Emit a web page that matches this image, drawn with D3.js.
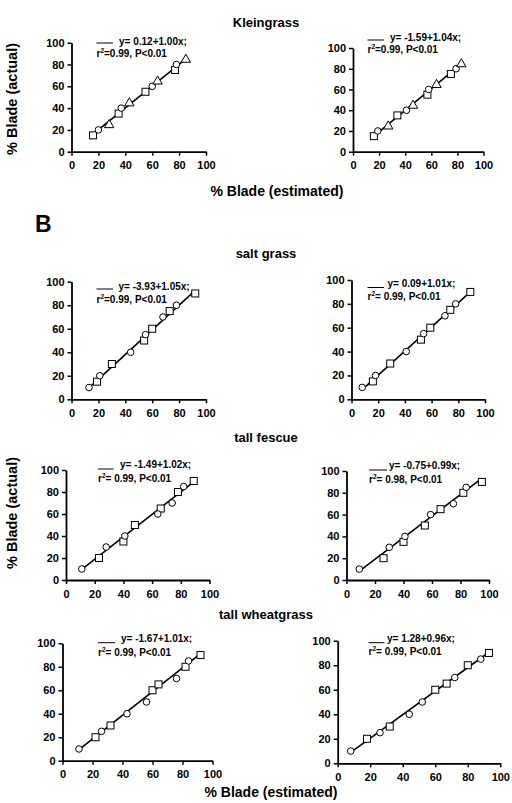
<!DOCTYPE html>
<html>
<head>
<meta charset="utf-8">
<script src="https://cdn.jsdelivr.net/npm/d3@7"></script>
<style>
  body { margin: 0; background: #fff; }
  text { font-family: "Liberation Sans", Arial, sans-serif; font-weight: bold; fill: #000; }
</style>
</head>
<body>
<svg id="chart" width="512" height="803"></svg>
<script>
// points are [estimated, actual] in % blade
var kleinL_sq = [[16,15],[35,35],[55,55],[77,75]];
var kleinL_ci = [[20,20],[37,40],[60,60],[78,80]];
var kleinL_tr = [[28,25],[43,45],[64,65],[85,85]];
var kleinR_sq = [[16,15],[34,35],[57,55],[75,75]];
var kleinR_ci = [[19,20],[41,40],[58,60],[79,80]];
var kleinR_tr = [[27,25],[46,45],[64,65],[83,85]];

var saltL_ci = [[13,10],[21,20],[44,40],[55,55],[68,70],[78,80]];
var saltL_sq = [[19,15],[30,30],[54,50],[60,60],[73,75],[92,90]];
var saltR_ci = [[8,10],[18,20],[41,40],[54,55],[70,70],[78,80]];
var saltR_sq = [[16,15],[29,30],[52,50],[59,60],[74,75],[89,90]];

var fescL_ci = [[11,10],[28,30],[41,40],[64,60],[74,70],[82,85]];
var fescL_sq = [[23,20],[40,35],[48,50],[66,65],[78,80],[89,90]];
var fescR_ci = [[9,10],[30,30],[41,40],[59,60],[75,70],[84,85]];
var fescR_sq = [[26,20],[40,35],[55,50],[66,65],[82,80],[95,90]];

var wheatL_ci = [[11,10],[26,25],[43,40],[56,50],[76,70],[84,85]];
var wheatL_sq = [[22,20],[32,30],[60,60],[64,65],[82,80],[92,90]];
var wheatR_ci = [[8,10],[26,25],[44,40],[52,50],[72,70],[88,85]];
var wheatR_sq = [[18,20],[32,30],[60,60],[67,65],[80,80],[93,90]];

var intercepts = [0.12, -1.59, -3.93, 0.09, -1.49, -0.75, -1.67, 1.28];
var slopes = [1.00, 1.04, 1.05, 1.01, 1.02, 0.99, 1.01, 0.96];
var r2Text = ["=0.99, P<0.01", "=0.99, P<0.01", "=0.99, P<0.01", "= 0.99, P<0.01",
              "= 0.99, P<0.01", "= 0.98, P<0.01", "= 0.99, P<0.01", "= 0.99, P<0.01"];

var titles = ["Kleingrass", "salt grass", "tall fescue", "tall wheatgrass"];
var ticks = [0, 20, 40, 60, 80, 100];

// panel placement (pixels)
var layout = [
  {x0: 71.5, x1: 206, y0: 151.7, y1: 42.7, lx: 96.5, lx2: 113, ly: 43, tx: 119, ty: 45, ry: 56.5},
  {x0: 353, x1: 483.5, y0: 151.7, y1: 48, lx: 367.5, lx2: 384, ly: 40, tx: 390, ty: 40.5, ry: 53},
  {x0: 71.5, x1: 206, y0: 399.3, y1: 281.7, lx: 96.5, lx2: 113, ly: 289, tx: 118.5, ty: 290, ry: 302.5},
  {x0: 351.5, x1: 485, y0: 399.3, y1: 280, lx: 367.5, lx2: 384, ly: 287.5, tx: 387.5, ty: 286.5, ry: 300},
  {x0: 66, x1: 209.5, y0: 580, y1: 470, lx: 98, lx2: 113.5, ly: 469, tx: 120, ty: 468, ry: 482},
  {x0: 346.5, x1: 489, y0: 580, y1: 471, lx: 369, lx2: 387, ly: 470, tx: 389, ty: 468.5, ry: 482.5},
  {x0: 62.5, x1: 212.5, y0: 760.7, y1: 643.3, lx: 98, lx2: 115, ly: 642.7, tx: 121, ty: 641.5, ry: 655.5},
  {x0: 337.7, x1: 500.3, y0: 763.3, y1: 640.7, lx: 368.5, lx2: 384.5, ly: 642.7, tx: 387, ty: 641.5, ry: 655}
];

var series = [
  {sq: kleinL_sq, ci: kleinL_ci, tr: kleinL_tr},
  {sq: kleinR_sq, ci: kleinR_ci, tr: kleinR_tr},
  {sq: saltL_sq, ci: saltL_ci},
  {sq: saltR_sq, ci: saltR_ci},
  {sq: fescL_sq, ci: fescL_ci},
  {sq: fescR_sq, ci: fescR_ci},
  {sq: wheatL_sq, ci: wheatL_ci},
  {sq: wheatR_sq, ci: wheatR_ci}
];

var svg = d3.select('#chart');

function fmt(v) { return v.toFixed(2); }

series.forEach(function(s, i) {
  var L = layout[i];
  var x = d3.scaleLinear().domain([0, 100]).range([L.x0, L.x1]);
  var y = d3.scaleLinear().domain([0, 100]).range([L.y0, L.y1]);
  var g = svg.append('g');

  var xAxis = g.append('g').attr('transform', 'translate(0,' + L.y0 + ')')
    .call(d3.axisBottom(x).tickValues(ticks).tickSize(4).tickSizeOuter(0).tickPadding(6));
  var yAxis = g.append('g').attr('transform', 'translate(' + L.x0 + ',0)')
    .call(d3.axisLeft(y).tickValues(ticks).tickSize(4).tickSizeOuter(0).tickPadding(3));
  [xAxis, yAxis].forEach(function(a) {
    a.select('.domain').attr('stroke', '#000').attr('stroke-width', 1.8);
    a.selectAll('.tick line').attr('stroke', '#000').attr('stroke-width', 1.5);
    a.selectAll('text').attr('font-size', 11).attr('font-family', '"Liberation Sans", Arial, sans-serif')
      .attr('font-weight', 'bold').attr('fill', '#000');
  });

  // regression line over range of the data
  var all = s.sq.concat(s.ci, s.tr || []);
  var ext = d3.extent(all, function(d) { return d[0]; });
  var line = d3.line().x(function(d) { return x(d); }).y(function(d) { return y(intercepts[i] + slopes[i] * d); });
  g.append('path').datum(ext).attr('d', line)
    .attr('fill', 'none').attr('stroke', '#000').attr('stroke-width', 1.6);

  g.selectAll('rect.sq').data(s.sq).enter().append('rect')
    .attr('x', function(d) { return x(d[0]) - 3.5; })
    .attr('y', function(d) { return y(d[1]) - 3.5; })
    .attr('width', 7).attr('height', 7)
    .attr('fill', '#fff').attr('stroke', '#000').attr('stroke-width', 1);
  g.selectAll('circle.ci').data(s.ci).enter().append('circle')
    .attr('cx', function(d) { return x(d[0]); })
    .attr('cy', function(d) { return y(d[1]); })
    .attr('r', 3.3)
    .attr('fill', '#fff').attr('stroke', '#000').attr('stroke-width', 1);
  if (s.tr) {
    var tri = d3.symbol().type(d3.symbolTriangle).size(38);
    g.selectAll('path.tr').data(s.tr).enter().append('path')
      .attr('d', tri)
      .attr('transform', function(d) { return 'translate(' + x(d[0]) + ',' + (y(d[1]) + 0.5) + ')'; })
      .attr('fill', '#fff').attr('stroke', '#000').attr('stroke-width', 1);
  }

  // equation legend
  g.append('line').attr('x1', L.lx).attr('x2', L.lx2).attr('y1', L.ly).attr('y2', L.ly)
    .attr('stroke', '#000').attr('stroke-width', 1);
  g.append('text').attr('x', L.tx).attr('y', L.ty).attr('font-size', 10)
    .text('y= ' + fmt(intercepts[i]) + '+' + fmt(slopes[i]) + 'x;');
  var r = g.append('text').attr('x', L.lx).attr('y', L.ry).attr('font-size', 10);
  r.append('tspan').text('r');
  r.append('tspan').attr('font-size', 6.5).attr('dy', -4).text('2');
  r.append('tspan').attr('dy', 4).text(r2Text[i]);
});

// panel titles
var titleY = [27, 258, 442, 619];
svg.selectAll('text.title').data(titles).enter().append('text')
  .attr('class', 'title')
  .attr('x', 266).attr('y', function(d, i) { return titleY[i]; })
  .attr('text-anchor', 'middle').attr('font-size', 13)
  .text(function(d) { return d; });

svg.append('text').attr('x', 35).attr('y', 232).attr('font-size', 23).text('B');

// axis titles
var xLabY = [196, 797];
var xLabX = [277, 271];
xLabY.forEach(function(yy, i) {
  svg.append('text').attr('x', xLabX[i]).attr('y', yy).attr('text-anchor', 'middle')
    .attr('font-size', 14).text('% Blade (estimated)');
});
var yLabY = [99, 513];
yLabY.forEach(function(yy) {
  svg.append('text').attr('transform', 'translate(16.5,' + yy + ') rotate(-90)')
    .attr('text-anchor', 'middle').attr('font-size', 14.5).text('% Blade (actual)');
});
</script>
</body>
</html>
